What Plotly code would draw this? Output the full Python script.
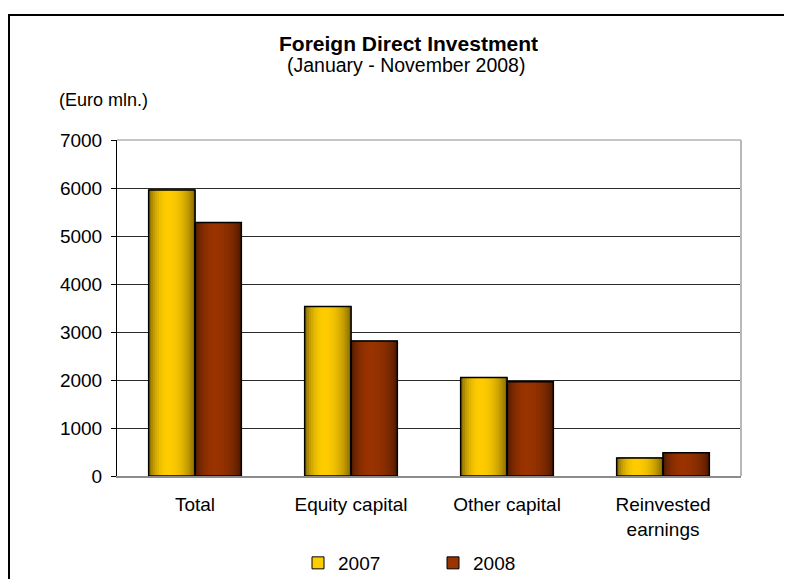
import math
import plotly.graph_objects as go

categories = ["Total", "Equity capital", "Other capital", "Reinvested<br>earnings"]
series_names = ["2007", "2008"]
values_2007 = [5960, 3530, 2050, 375]
values_2008 = [5280, 2810, 1965, 485]
y_ticks = [0, 1000, 2000, 3000, 4000, 5000, 6000, 7000]

FONT = "Liberation Sans, Arial, sans-serif"
OFF = 8  # default body margin of the page
W, H = 792 - OFF, 579 - OFF
# plot area in page pixels
PL, PR, PT, PB = 117, 741, 140, 476
L, R, T, B = PL - OFF, W - (PR - OFF), PT - OFF, H - (PB - OFF)
PW, PH = PR - PL, PB - PT


def px_x(px):
    return (px - PL) / PW


def px_y(py):
    return (PB - py) / PH


def shade(rgb, f):
    return "rgb(%d,%d,%d)" % tuple(max(0, min(255, round(c * f))) for c in rgb)


def profile(t):
    peak = 0.42
    s = t / peak if t < peak else 1 - (t - peak) / (1 - peak)
    return 0.42 + 0.58 * math.sin(s * math.pi / 2) ** 0.6


fig = go.Figure()

bar_w = 0.297
specs = [
    (series_names[0], values_2007, (255, 204, 0), -bar_w),
    (series_names[1], values_2008, (153, 51, 0), 0.0),
]

N = 22
for name, vals, rgb, off in specs:
    fig.add_trace(go.Bar(
        x=categories, y=vals, name=name, offset=off, width=bar_w,
        marker=dict(color=shade(rgb, 1.0), line=dict(color="black", width=1)),
        showlegend=True, hoverinfo="skip",
    ))
for name, vals, rgb, off in specs:
    step = bar_w / N
    for i in range(N):
        o = off + i * step
        w = min(step * 1.35, off + bar_w - o)
        t = (i + 0.5) / N
        fig.add_trace(go.Bar(
            x=categories, y=vals, offset=o, width=w,
            marker=dict(color=shade(rgb, profile(t)), line=dict(width=0)),
            showlegend=False, hoverinfo="skip",
        ))
for name, vals, rgb, off in specs:
    fig.add_trace(go.Bar(
        x=categories, y=vals, offset=off, width=bar_w,
        marker=dict(color="rgba(0,0,0,0)", line=dict(color="black", width=1.5)),
        showlegend=False, hoverinfo="skip",
    ))

fig.update_layout(
    width=W, height=H,
    margin=dict(l=L, r=R, t=T, b=B, autoexpand=False),
    paper_bgcolor="white", plot_bgcolor="white",
    barmode="overlay",
    font=dict(family=FONT, size=19, color="black"),
    showlegend=True,
    legend=dict(
        orientation="h", x=px_x(298), xanchor="left",
        yref="container", y=1 - (563 - OFF) / H, yanchor="middle",
        font=dict(family=FONT, size=19, color="black"),
        entrywidth=90, entrywidthmode="pixels",
        itemwidth=30, bgcolor="rgba(0,0,0,0)",
    ),
    xaxis=dict(
        type="category", showgrid=False, showline=True,
        linecolor="#8c8c8c", linewidth=2, ticks="",
        tickfont=dict(family=FONT, size=19, color="black"),
        range=[-0.5, 3.5], ticklabelstandoff=10,
    ),
    yaxis=dict(
        range=[0, 7000], tickvals=y_ticks,
        ticktext=[str(v) for v in y_ticks],
        showgrid=True, gridcolor="#2a2a2a", gridwidth=1,
        showline=True, linecolor="black", linewidth=1,
        ticks="outside", ticklen=5, tickcolor="black", tickwidth=1,
        tickfont=dict(family=FONT, size=19, color="black"),
        ticklabelstandoff=5, zeroline=False,
    ),
    shapes=[
        dict(type="line", xref="paper", yref="paper", x0=0, x1=1, y0=1, y1=1,
             line=dict(color="#8a8a8a", width=1)),
        dict(type="line", xref="paper", yref="paper", x0=1, x1=1, y0=0, y1=1,
             line=dict(color="#b8b8b8", width=2)),
        dict(type="rect", xref="paper", yref="paper",
             x0=px_x(9), x1=px_x(830), y0=px_y(620), y1=px_y(15),
             line=dict(color="black", width=2), fillcolor="rgba(0,0,0,0)"),
    ],
    annotations=[
        dict(text="<b>Foreign Direct Investment</b>", x=px_x(408), y=px_y(44),
             xref="paper", yref="paper", xanchor="center", yanchor="middle",
             showarrow=False, font=dict(family=FONT, size=21, color="black")),
        dict(text="(January - November 2008)", x=px_x(406), y=px_y(65),
             xref="paper", yref="paper", xanchor="center", yanchor="middle",
             showarrow=False, font=dict(family=FONT, size=19.5, color="black")),
        dict(text="(Euro mln.)", x=px_x(57), y=px_y(100),
             xref="paper", yref="paper", xanchor="left", yanchor="middle",
             showarrow=False, font=dict(family=FONT, size=18, color="black")),
    ],
)

fig.write_html("out.html")
